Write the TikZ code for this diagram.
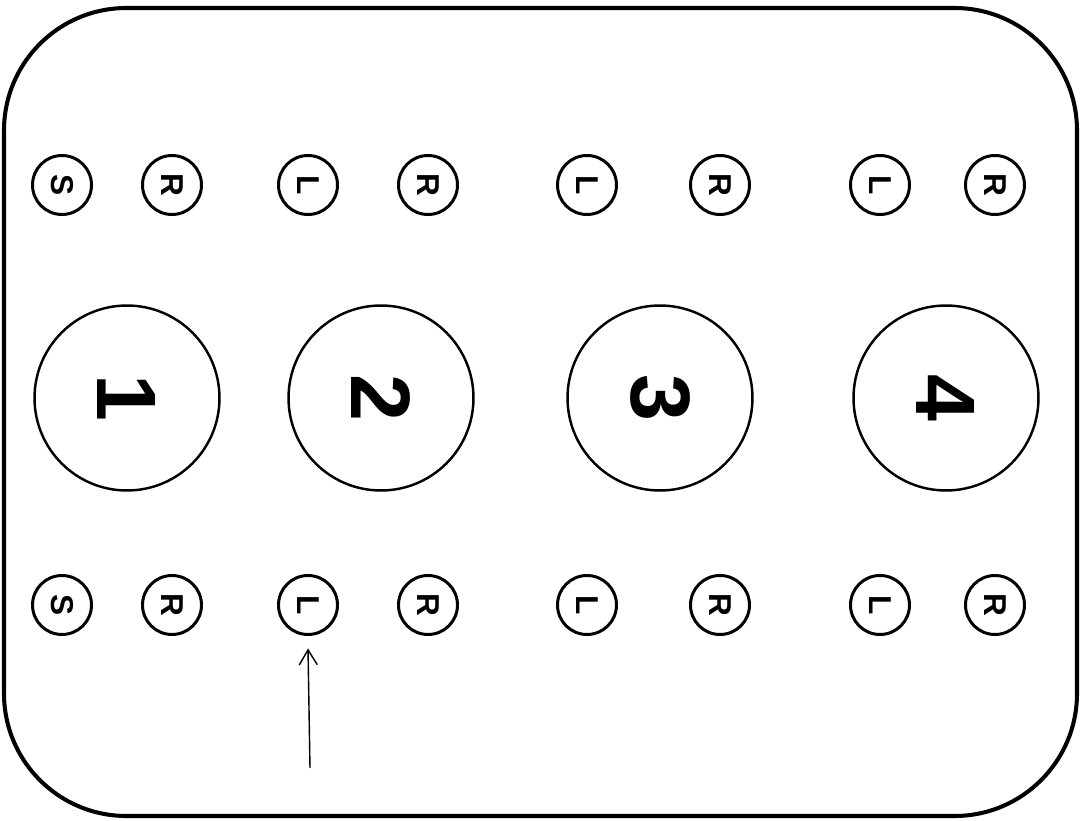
\documentclass[tikz,border=0pt]{standalone}
\usepackage{fontspec}
\setmainfont{Liberation Sans}
\usetikzlibrary{arrows.meta}
\begin{document}
\begin{tikzpicture}[x=0.02cm,y=-0.02cm,
  small/.style={draw,circle,line width=1.7pt,minimum size=1.18cm,inner sep=0pt,font=\fontsize{18}{18}\selectfont\bfseries},
  big/.style={draw,circle,line width=1.4pt,minimum size=3.7cm,inner sep=0pt,font=\fontsize{48}{48}\selectfont\bfseries},
  lbl/.style={rotate=-90}]
\useasboundingbox (0,0) rectangle (1090,821);
\draw[line width=2.3pt,rounded corners=2.45cm] (4,8) rectangle (1077,816);
% top row
\foreach \x/\t/\n in {62/S/ta,172/R/tb,308/L/tc,428/R/td,587/L/te,720/R/tf,880/L/tg,995/R/th}
  \node[small] (\n) at (\x,185) {\rotatebox{-90}{\t}};
% bottom row
\foreach \x/\t/\n in {62/S/ba,172/R/bb,308/L/bc,428/R/bd,587/L/be,720/R/bf,880/L/bg,995/R/bh}
  \node[small] (\n) at (\x,605) {\rotatebox{-90}{\t}};
% big circles
\node[big] (c1) at (127,398) {\rotatebox{-90}{1}};
\node[big] (c2) at (381,398) {\rotatebox{-90}{2}};
\node[big] (c3) at (660,398) {\rotatebox{-90}{3}};
\node[big] (c4) at (946,398) {\rotatebox{-90}{4}};
\coordinate (af) at (310,768);
\draw[line width=0.8pt,-{Straight Barb[length=3mm,width=3.6mm]}] (af) -- ([yshift=-0.25cm]bc.south);
\end{tikzpicture}
\end{document}
